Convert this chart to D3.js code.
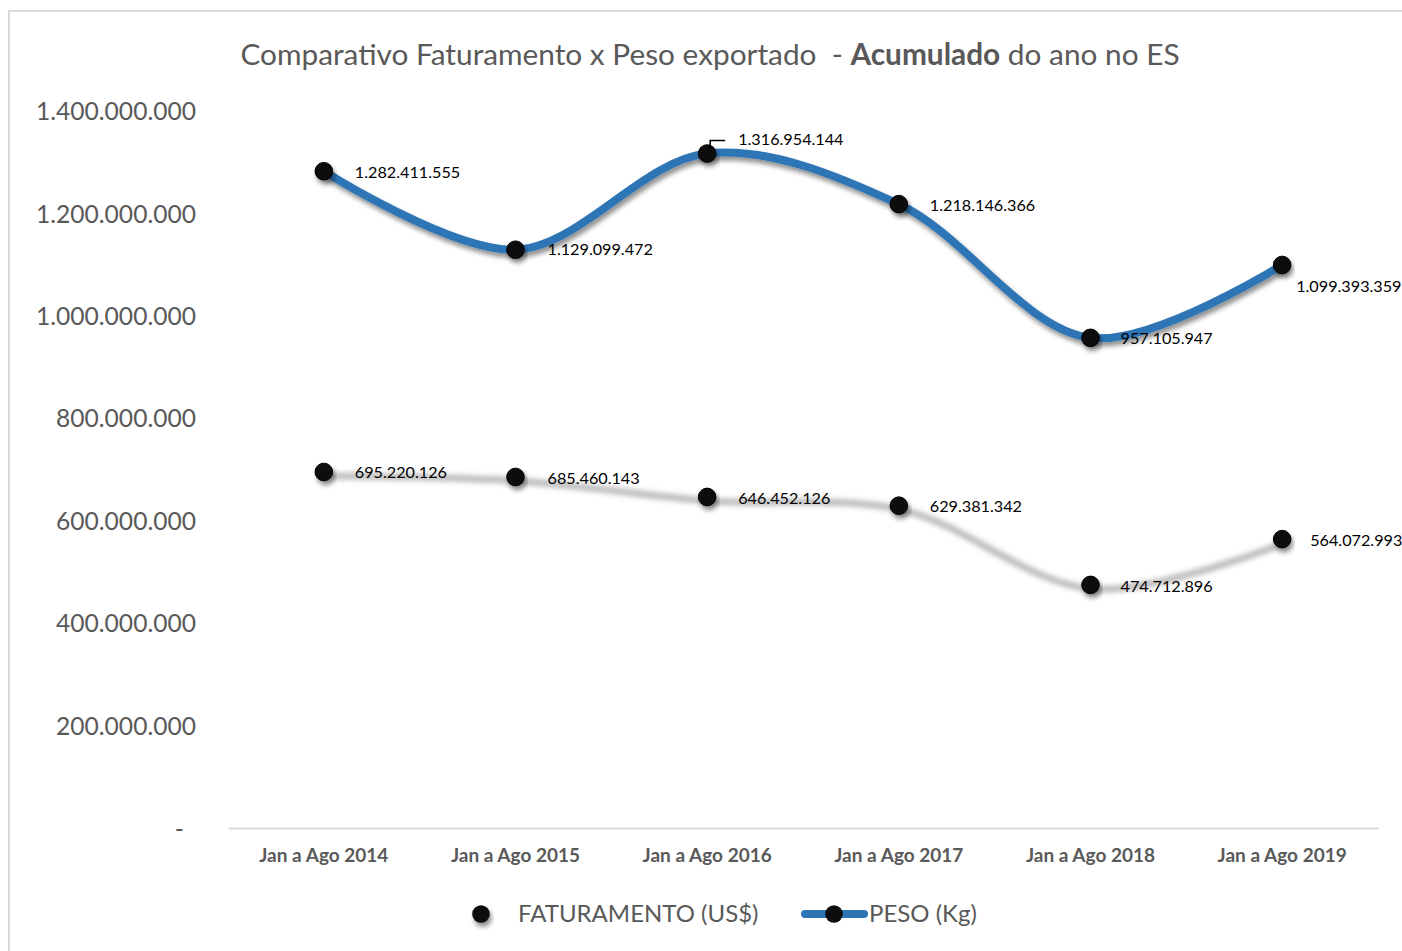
<!DOCTYPE html>
<html>
<head>
<meta charset="utf-8">
<script src="https://cdn.jsdelivr.net/npm/d3@7"></script>
<style>
  html, body { margin: 0; padding: 0; background: #fff; }
  svg { display: block; }
  text { font-family: Lato, "Open Sans", sans-serif; }
</style>
</head>
<body>
<svg id="chart" width="1402" height="951"></svg>
<script>
// ---- Data ----
const categories = ["Jan a Ago 2014", "Jan a Ago 2015", "Jan a Ago 2016", "Jan a Ago 2017", "Jan a Ago 2018", "Jan a Ago 2019"];
const faturamento = [695220126, 685460143, 646452126, 629381342, 474712896, 564072993];
const peso = [1282411555, 1129099472, 1316954144, 1218146366, 957105947, 1099393359];
const yTicks = [0, 200000000, 400000000, 600000000, 800000000, 1000000000, 1200000000, 1400000000];
const seriesNames = ["FATURAMENTO (US$)", "PESO (Kg)"];

// ---- Layout / style ----
const W = 1402, H = 951;
const plot = { left: 228, right: 1378, top: 111, bottom: 828 };
// label offsets (dx, dy) relative to each point
const pesoLabelOff = [[31, 1], [32, 0], [31, -14], [31, 1], [30, 1], [14, 21]];
const fatLabelOff = [[31, 0], [32, 1], [31, 1], [31, 1], [30, 1], [28, 1]];

const fmt = v => d3.format(",")(v).replace(/,/g, ".");

const svg = d3.select("#chart");

// shadows
const defs = svg.append("defs");
const sh = defs.append("filter").attr("id", "shadow").attr("x", "-20%").attr("y", "-50%").attr("width", "140%").attr("height", "200%");
sh.append("feGaussianBlur").attr("in", "SourceAlpha").attr("stdDeviation", 2.5).attr("result", "b");
sh.append("feOffset").attr("in", "b").attr("dx", 2).attr("dy", 4).attr("result", "o");
sh.append("feComponentTransfer").attr("in", "o").attr("result", "o2")
  .append("feFuncA").attr("type", "linear").attr("slope", 0.45);
const m = sh.append("feMerge");
m.append("feMergeNode").attr("in", "o2");
m.append("feMergeNode").attr("in", "SourceGraphic");

const blur = defs.append("filter").attr("id", "gblur").attr("x", "-10%").attr("y", "-50%").attr("width", "120%").attr("height", "200%");
blur.append("feGaussianBlur").attr("stdDeviation", 2.6);

// frame
svg.append("line").attr("x1", 9).attr("x2", W).attr("y1", 11).attr("y2", 11).attr("stroke", "#d9d9d9").attr("stroke-width", 2);
svg.append("line").attr("x1", 9).attr("x2", 9).attr("y1", 10).attr("y2", H).attr("stroke", "#d9d9d9").attr("stroke-width", 2);

// scales
const x = d3.scaleBand().domain(categories).range([plot.left, plot.right]);
const y = d3.scaleLinear().domain([0, 1400000000]).range([plot.bottom, plot.top]);
const cx = c => x(c) + x.bandwidth() / 2;

// title
const title = svg.append("text").attr("x", 710).attr("y", 65).attr("text-anchor", "middle")
  .attr("font-size", 29.8).attr("fill", "#595959").style("white-space", "pre");
title.append("tspan").text("Comparativo Faturamento x Peso exportado  - ");
title.append("tspan").attr("font-weight", "bold").text("Acumulado");
title.append("tspan").text(" do ano no ES");

// y axis labels
const yAxis = d3.axisLeft(y).tickValues(yTicks).tickSize(0).tickPadding(0)
  .tickFormat(v => v === 0 ? "-" : fmt(v));
const yg = svg.append("g").attr("transform", "translate(196,0)").call(yAxis);
yg.select(".domain").remove();
yg.selectAll("text").attr("font-size", 24.6).attr("fill", "#595959").attr("font-family", "Lato, sans-serif").attr("dy", "0.35em");
yg.selectAll("text").filter(d => d === 0).attr("dx", -12).attr("dy", "0.4em");

// x axis
const xAxis = d3.axisBottom(x).tickSize(0).tickPadding(0);
const xg = svg.append("g").attr("transform", `translate(0,${plot.bottom})`).call(xAxis);
xg.select(".domain").attr("stroke", "#d9d9d9").attr("stroke-width", 2);
xg.selectAll("text").attr("font-size", 19).attr("font-weight", "bold").attr("fill", "#595959")
  .attr("font-family", "Lato, sans-serif").attr("dy", 34);

const line = d3.line().x((d, i) => cx(categories[i])).y(d => y(d)).curve(d3.curveCatmullRom.alpha(0.5));

// faturamento: shadow-only line
svg.append("path").datum(faturamento).attr("d", line)
  .attr("transform", "translate(2,4)")
  .attr("fill", "none").attr("stroke", "#bdbdbd").attr("stroke-width", 7).attr("filter", "url(#gblur)");

// peso line
svg.append("path").datum(peso).attr("d", line)
  .attr("fill", "none").attr("stroke", "#2e75b6").attr("stroke-width", 8).attr("stroke-linecap", "round")
  .attr("filter", "url(#shadow)");

// markers
function markers(data) {
  svg.append("g").selectAll("circle").data(data).join("circle")
    .attr("cx", (d, i) => cx(categories[i])).attr("cy", d => y(d)).attr("r", 8.8)
    .attr("fill", "#0d0d0d").attr("stroke", "#000").attr("stroke-width", 1)
    .attr("filter", "url(#shadow)");
}
markers(faturamento);
markers(peso);

// leader line for 2016 peso
{
  const px = cx(categories[2]), py = y(peso[2]);
  svg.append("path").attr("d", `M${px + 3},${py - 4} L${px + 3},${py - 13} L${px + 18},${py - 13}`)
    .attr("fill", "none").attr("stroke", "#000").attr("stroke-width", 1.5);
}

// data labels
function labels(data, offs) {
  svg.append("g").selectAll("text").data(data).join("text")
    .attr("x", (d, i) => cx(categories[i]) + offs[i][0])
    .attr("y", (d, i) => y(d) + offs[i][1])
    .attr("dy", "0.35em")
    .attr("font-size", 16.2).attr("fill", "#000")
    .text(d => fmt(d));
}
labels(peso, pesoLabelOff);
labels(faturamento, fatLabelOff);

// legend
const lg = svg.append("g");
lg.append("circle").attr("cx", 481).attr("cy", 914).attr("r", 8.8).attr("fill", "#0d0d0d").attr("filter", "url(#shadow)");
lg.append("text").attr("x", 518).attr("y", 914).attr("dy", "0.35em").attr("font-size", 24).attr("fill", "#595959").text(seriesNames[0]);
lg.append("line").attr("x1", 805).attr("x2", 864).attr("y1", 914).attr("y2", 914)
  .attr("stroke", "#2e75b6").attr("stroke-width", 8).attr("stroke-linecap", "round");
lg.append("circle").attr("cx", 834).attr("cy", 914).attr("r", 8.8).attr("fill", "#0d0d0d");
lg.append("text").attr("x", 869).attr("y", 914).attr("dy", "0.35em").attr("font-size", 24).attr("fill", "#595959").text(seriesNames[1]);
</script>
</body>
</html>
